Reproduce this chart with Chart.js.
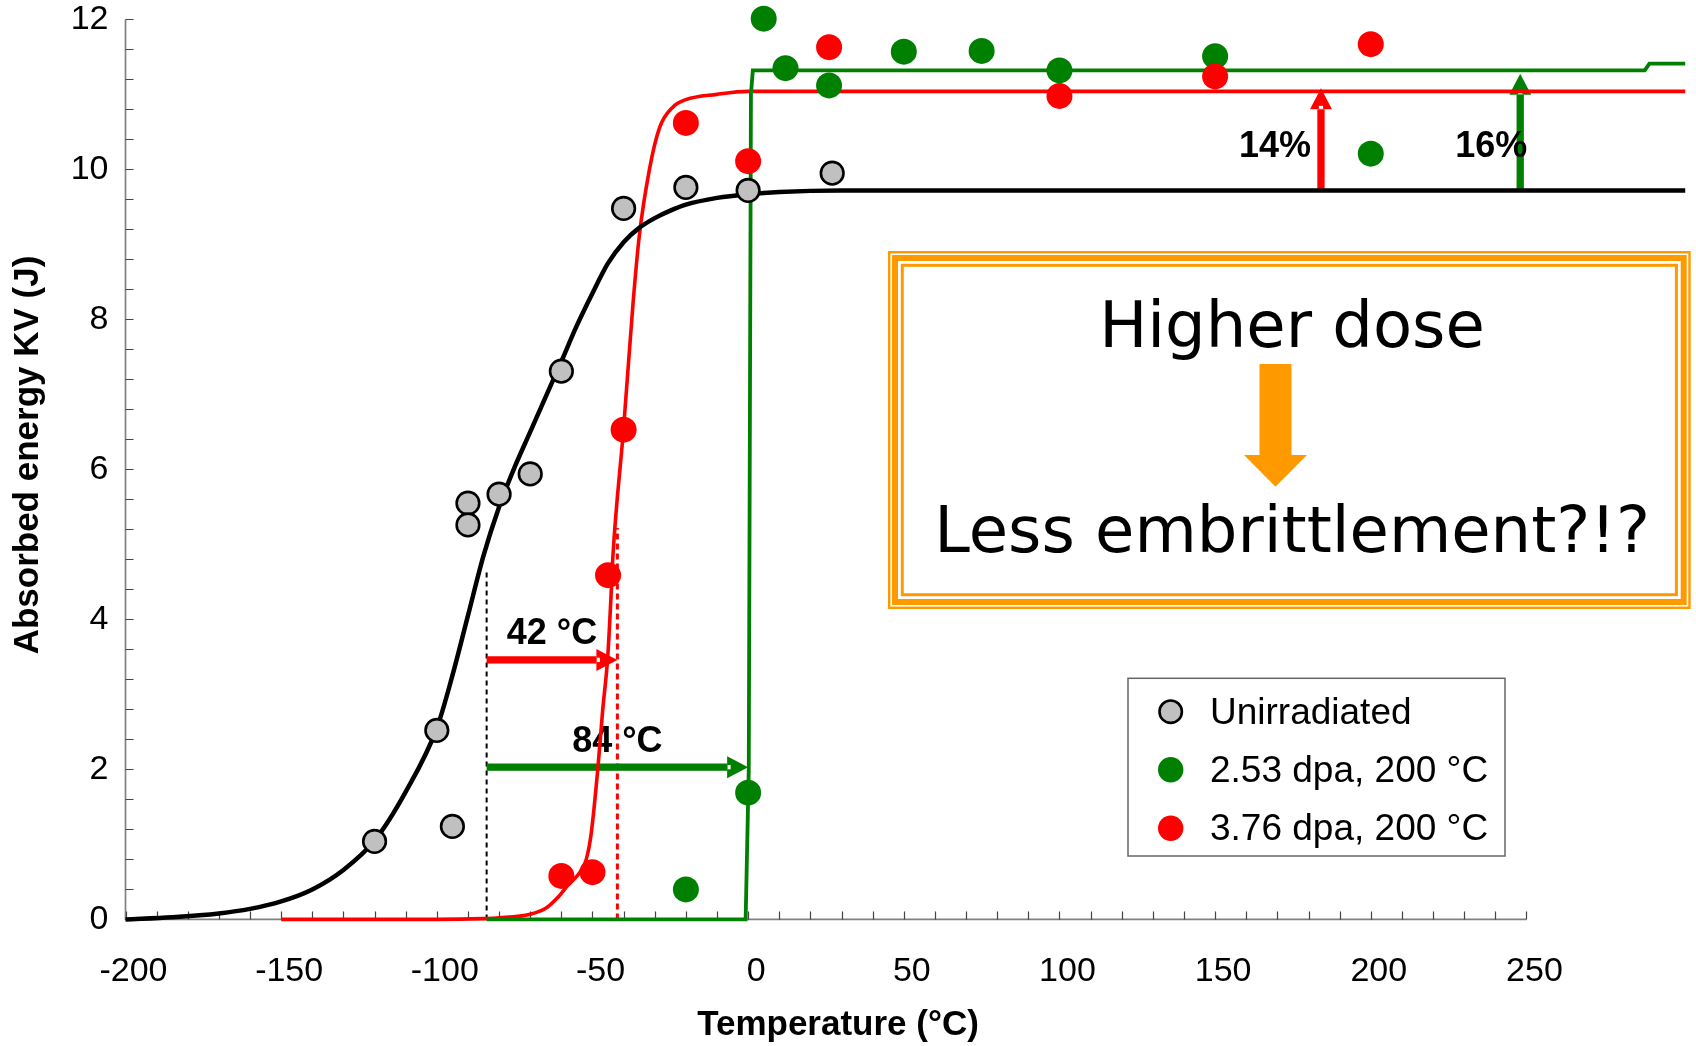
<!DOCTYPE html>
<html>
<head>
<meta charset="utf-8">
<title>Absorbed energy vs temperature</title>
<script src="https://cdn.jsdelivr.net/npm/chart.js@4.4.1/dist/chart.umd.min.js"></script>
<style>
  html, body { margin: 0; padding: 0; background: #fff; }
  #wrap { width: 1696px; height: 1046px; }
</style>
</head>
<body>
<div id="wrap"><canvas id="kv" width="1696" height="1046"></canvas></div>
<script>
// measured Charpy points: temperature (°C) / absorbed energy KV (J)
const unirrTemp = [-120, -100, -95, -90, -90, -80, -70, -60, -40, -20, 0, 27];
const unirrKV   = [1.04, 2.52, 1.24, 5.55, 5.26, 5.67, 5.94, 7.31, 9.48, 9.76, 9.72, 9.95];

const dpa253Temp = [-20, 0, 5, 12, 26, 50, 75, 100, 150, 200];
const dpa253KV   = [0.40, 1.69, 12.01, 11.35, 11.12, 11.57, 11.58, 11.32, 11.51, 10.21];

const dpa376Temp = [-60, -50, -45, -40, -20, 0, 26, 100, 150, 200];
const dpa376KV   = [0.58, 0.63, 4.59, 6.53, 10.62, 10.11, 11.63, 10.98, 11.24, 11.67];

// fitted transition curves
const unirrFitTemp = [-200, -185, -170, -160, -150, -140, -130, -120, -110, -100, -95, -90, -85, -80, -75, -70, -65, -60, -55, -50, -45, -40, -35, -30, -25, -20, -10, 0, 10, 30, 301];
const unirrFitKV   = [0.00, 0.03, 0.08, 0.14, 0.24, 0.40, 0.66, 1.05, 1.70, 2.55, 3.25, 4.05, 4.85, 5.50, 6.03, 6.50, 6.97, 7.44, 7.92, 8.35, 8.75, 9.03, 9.22, 9.35, 9.45, 9.53, 9.62, 9.67, 9.70, 9.72, 9.72];

const dpa376FitTemp = [-150, -100, -85, -80, -70, -65, -61, -58, -54, -52, -50.4, -48.3, -46.7, -45.1, -44, -43.5, -40, -37, -35, -31.7, -28.5, -24.2, -20, -10, 0, 301];
const dpa376FitKV   = [0.00, 0.00, 0.01, 0.02, 0.07, 0.15, 0.30, 0.45, 0.63, 0.80, 1.15, 2.00, 2.80, 3.50, 4.35, 4.80, 6.55, 8.20, 9.10, 10.00, 10.55, 10.83, 10.93, 11.00, 11.04, 11.04];

const dpa253FitTemp = [-84, -0.8, 0.2, 0.9, 1.5, 288, 289.5, 301];
const dpa253FitKV   = [0.00, 0.00, 2.00, 11.00, 11.32, 11.32, 11.41, 11.41];

const tempTicks   = [-200, -150, -100, -50, 0, 50, 100, 150, 200, 250];
const energyTicks = [0, 2, 4, 6, 8, 10, 12];

const seriesNames = ['Unirradiated', '2.53 dpa, 200 °C', '3.76 dpa, 200 °C'];

// transition temperature shift (°C) and upper shelf increase (%)
const dbttRef = -84;
const dbttShift = [42, 84];          // 3.76 dpa, 2.53 dpa
const shelfRef = 9.72;
const shelfGain = [14, 16];          // 3.76 dpa, 2.53 dpa

const GREY = '#c0c0c0', GREEN = '#008000', RED = '#ff0000', ORANGE = '#ff9900';
const SANS = '"Liberation Sans", Arial, sans-serif';

const toXY = (xs, ys) => xs.map((x, i) => ({ x: x, y: ys[i] }));

function arrow(ctx, x0, y0, x1, y1, color) {
  const shaft = 7.3, headLen = 21, headW = 22;
  const len = Math.hypot(x1 - x0, y1 - y0);
  ctx.save();
  ctx.translate(x0, y0);
  ctx.rotate(Math.atan2(y1 - y0, x1 - x0));
  ctx.fillStyle = color;
  ctx.fillRect(0, -shaft / 2, len - headLen, shaft);
  ctx.beginPath();
  ctx.moveTo(len, 0);
  ctx.lineTo(len - headLen, -headW / 2);
  ctx.lineTo(len - headLen, headW / 2);
  ctx.closePath();
  ctx.fill();
  ctx.fillStyle = '#fff';
  ctx.fillRect(len - headLen + 0.5, -shaft / 2 + 1.5, 3, shaft - 3);
  ctx.restore();
}

function dashedV(ctx, x, y0, y1, color, width, dash) {
  ctx.save();
  ctx.strokeStyle = color;
  ctx.lineWidth = width;
  ctx.setLineDash(dash);
  ctx.beginPath();
  ctx.moveTo(x, y0);
  ctx.lineTo(x, y1);
  ctx.stroke();
  ctx.restore();
}

// axes, minor ticks, shift arrows and their labels (under the data)
const underlay = {
  id: 'underlay',
  beforeDatasetsDraw(chart) {
    const ctx = chart.ctx, xs = chart.scales.x, ys = chart.scales.y;
    const x0 = xs.getPixelForValue(-200), xEnd = xs.getPixelForValue(250);
    const y0 = ys.getPixelForValue(0), yTop = ys.getPixelForValue(12);

    ctx.save();
    ctx.strokeStyle = '#808080';
    ctx.lineWidth = 1.7;
    ctx.beginPath();
    ctx.moveTo(x0, yTop); ctx.lineTo(x0, y0); ctx.lineTo(xEnd, y0);
    ctx.stroke();
    ctx.strokeStyle = '#444';
    ctx.lineWidth = 1.2;
    ctx.beginPath();
    for (let i = 0; i <= 45; i++) {
      const px = Math.round(xs.getPixelForValue(-200 + i * 10)) + 0.5;
      ctx.moveTo(px, y0); ctx.lineTo(px, y0 - 8);
    }
    for (let i = 0; i <= 30; i++) {
      const py = Math.round(ys.getPixelForValue(i * 0.4)) + 0.5;
      ctx.moveTo(x0, py); ctx.lineTo(x0 + 8, py);
    }
    ctx.stroke();
    ctx.restore();

    const tRef = xs.getPixelForValue(dbttRef);
    const tRed = xs.getPixelForValue(dbttRef + dbttShift[0]);
    const tGreen = xs.getPixelForValue(dbttRef + dbttShift[1]);
    dashedV(ctx, tRef, y0, ys.getPixelForValue(4.68), '#000', 2, [5, 4]);
    dashedV(ctx, tRed, y0, ys.getPixelForValue(5.22), RED, 3, [6, 4]);

    const yRedArrow = ys.getPixelForValue(3.46), yGreenArrow = ys.getPixelForValue(2.03);
    arrow(ctx, tRef, yRedArrow, tRed, yRedArrow, RED);
    arrow(ctx, tRef, yGreenArrow, tGreen, yGreenArrow, GREEN);

    const yShelf = ys.getPixelForValue(shelfRef);
    const xRedUp = xs.getPixelForValue(184), xGreenUp = xs.getPixelForValue(248);
    arrow(ctx, xRedUp, yShelf, xRedUp, ys.getPixelForValue(shelfRef * (1 + shelfGain[0] / 100)), RED);
    arrow(ctx, xGreenUp, yShelf, xGreenUp, ys.getPixelForValue(shelfRef * (1 + shelfGain[1] / 100)), GREEN);

    ctx.save();
    ctx.fillStyle = '#000';
    ctx.font = 'bold 36px ' + SANS;
    ctx.textBaseline = 'alphabetic';
    ctx.textAlign = 'center';
    ctx.fillText(dbttShift[0] + ' °C', (tRef + tRed) / 2, yRedArrow - 16);
    ctx.fillText(dbttShift[1] + ' °C', (tRef + tGreen) / 2, yGreenArrow - 15);
    ctx.textAlign = 'right';
    const yPct = ys.getPixelForValue(10.16);
    ctx.fillText(shelfGain[0] + '%', xRedUp - 10, yPct);
    ctx.fillText(shelfGain[1] + '%', xGreenUp + 7, yPct);
    ctx.restore();
  }
};

// axis titles, legend and the framed note (on top)
const overlay = {
  id: 'overlay',
  afterDatasetsDraw(chart) {
    const ctx = chart.ctx;
    ctx.save();
    ctx.fillStyle = '#000';
    ctx.font = 'bold 35px ' + SANS;
    ctx.textAlign = 'center';
    ctx.textBaseline = 'alphabetic';
    ctx.fillText('Temperature (°C)', 838, 1035);
    ctx.save();
    ctx.translate(38, 455);
    ctx.rotate(-Math.PI / 2);
    ctx.fillText('Absorbed energy KV (J)', 0, 0);
    ctx.restore();

    // legend
    const lx = 1128, ly = 678.3, lw = 377, lh = 177.7;
    ctx.fillStyle = '#fff';
    ctx.fillRect(lx, ly, lw, lh);
    ctx.strokeStyle = '#666';
    ctx.lineWidth = 1.5;
    ctx.strokeRect(lx, ly, lw, lh);
    const rows = [711.7, 769.7, 828.3];
    const fills = [GREY, GREEN, RED];
    ctx.font = '37px ' + SANS;
    ctx.textAlign = 'left';
    rows.forEach((ry, i) => {
      ctx.beginPath();
      ctx.arc(1170.7, ry, i === 0 ? 11.2 : 12.7, 0, Math.PI * 2);
      ctx.fillStyle = fills[i];
      ctx.fill();
      if (i === 0) { ctx.lineWidth = 2.6; ctx.strokeStyle = '#000'; ctx.stroke(); }
      ctx.fillStyle = '#000';
      ctx.fillText(seriesNames[i], 1210, ry + 12);
    });

    // framed note
    const bx = 888, by = 251, bw = 802.7, bh = 358;
    ctx.fillStyle = '#fff';
    ctx.fillRect(bx, by, bw, bh);
    ctx.strokeStyle = ORANGE;
    [[1.2, 2.4], [7, 6], [14.3, 3]].forEach(([inset, w]) => {
      ctx.lineWidth = w;
      ctx.strokeRect(bx + inset, by + inset, bw - 2 * inset, bh - 2 * inset);
    });
    ctx.fillStyle = '#000';
    ctx.font = '64px "DejaVu Sans", Verdana, sans-serif';
    ctx.textAlign = 'center';
    ctx.fillText('Higher dose', 1292, 346.7);
    ctx.fillText('Less embrittlement?!?', 1292, 551.7);
    ctx.fillStyle = ORANGE;
    ctx.fillRect(1259.5, 364, 32, 91);
    ctx.beginPath();
    ctx.moveTo(1244, 455);
    ctx.lineTo(1307, 455);
    ctx.lineTo(1275.5, 486.7);
    ctx.closePath();
    ctx.fill();
    ctx.restore();
  }
};

const fitLine = (xs, ys, color, width, order, smooth) => ({
  type: 'line',
  data: toXY(xs, ys),
  borderColor: color,
  borderWidth: width,
  pointRadius: 0,
  fill: false,
  tension: 0,
  cubicInterpolationMode: smooth ? 'monotone' : 'default',
  clip: false,
  order: order
});

new Chart(document.getElementById('kv'), {
  type: 'scatter',
  data: {
    datasets: [
      { label: seriesNames[2], data: toXY(dpa376Temp, dpa376KV), backgroundColor: RED, borderWidth: 0, pointRadius: 13, clip: false, order: 0 },
      { label: seriesNames[1], data: toXY(dpa253Temp, dpa253KV), backgroundColor: GREEN, borderWidth: 0, pointRadius: 13, clip: false, order: 1 },
      { label: seriesNames[0], data: toXY(unirrTemp, unirrKV), backgroundColor: GREY, borderColor: '#000', borderWidth: 2.6, pointRadius: 11.3, clip: false, order: 2 },
      fitLine(unirrFitTemp, unirrFitKV, '#000', 4.5, 3, true),
      fitLine(dpa253FitTemp, dpa253FitKV, GREEN, 3.8, 4, false),
      fitLine(dpa376FitTemp, dpa376FitKV, RED, 3.6, 5, true)
    ]
  },
  options: {
    responsive: false,
    animation: false,
    events: [],
    layout: { padding: { top: 19.4, right: 4, left: 0, bottom: 0 } },
    plugins: { legend: { display: false }, tooltip: { enabled: false } },
    scales: {
      x: {
        type: 'linear', min: -200, max: 300,
        afterBuildTicks: s => { s.ticks = tempTicks.map(v => ({ value: v })); },
        afterFit: s => { s.height = 126.6; s.paddingLeft = 0; s.paddingRight = 0; },
        grid: { display: false, drawTicks: false },
        border: { display: false },
        ticks: { color: '#000', font: { family: SANS, size: 34 }, padding: 32, labelOffset: 8, maxRotation: 0, autoSkip: false }
      },
      y: {
        type: 'linear', min: 0, max: 12,
        afterBuildTicks: s => { s.ticks = energyTicks.map(v => ({ value: v })); },
        afterFit: s => { s.width = 125.5; s.paddingTop = 0; s.paddingBottom = 0; },
        grid: { display: false, drawTicks: false },
        border: { display: false },
        ticks: { color: '#000', font: { family: SANS, size: 34 }, padding: 17 }
      }
    }
  },
  plugins: [underlay, overlay]
});
</script>
</body>
</html>
